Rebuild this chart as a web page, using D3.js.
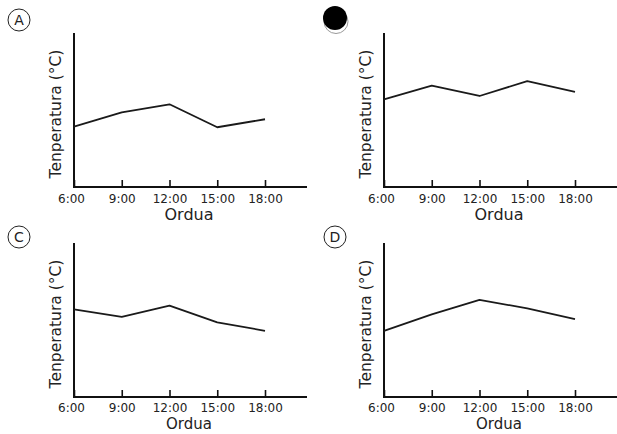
<!DOCTYPE html>
<html>
<head>
<meta charset="utf-8">
<script src="https://cdn.jsdelivr.net/npm/d3@7"></script>
<style>
  html, body { margin: 0; padding: 0; background: #fff; }
  svg { display: block; font-family: "DejaVu Sans", Verdana, sans-serif; }
</style>
</head>
<body>
<svg id="chart" width="617" height="434"></svg>
<script>
// ---- Data ----
const hours = [6, 9, 12, 15, 18];
const tickLabels = ["6:00", "9:00", "12:00", "15:00", "18:00"];
const panelLabels = ["A", "B", "C", "D"];
const seriesA = [39.2, 48.5, 53.7, 38.8, 44.0];
const seriesB = [56.9, 65.8, 59.1, 68.8, 61.7];
const seriesC = [56.9, 52.1, 59.3, 48.5, 43.0];
const seriesD = [42.9, 53.7, 63.0, 57.6, 50.5];
const xTitle = "Ordua";
const yTitle = "Tenperatura (°C)";

const allSeries = [seriesA, seriesB, seriesC, seriesD];

// ---- Layout ----
const svg = d3.select("#chart");
const panelW = 310, panelH = 210;
const axisLeft = 74, axisTop = 33, axisBottom = 187;

const x = d3.scaleLinear().domain([6, 18]).range([axisLeft, 265]);
const y = d3.scaleLinear().domain([0, 100]).range([axisBottom, axisTop]);

allSeries.forEach((vals, i) => {
  const col = i % 2, row = Math.floor(i / 2);
  const g = svg.append("g").attr("transform", `translate(${col * panelW},${row * panelH})`);
  const rightEdge = 307;

  const xAxis = d3.axisBottom(x)
    .tickValues(hours)
    .tickFormat((d, j) => tickLabels[j])
    .tickSizeInner(-7)
    .tickSizeOuter(0)
    .tickPadding(row === 0 ? 7 : 6);
  const xg = g.append("g").attr("transform", `translate(0,${axisBottom})`).call(xAxis);
  xg.select(".domain").remove();
  xg.selectAll(".tick line").attr("stroke", "#111").attr("stroke-width", 1.6);
  xg.selectAll(".tick text")
    .attr("fill", "#222")
    .style("font-size", "12px")
    .style("font-family", "'DejaVu Sans', Verdana, sans-serif");
  xg.selectAll(".tick").filter(d => d === 6).select("text").attr("dx", -3);

  // axis lines
  g.append("line")
    .attr("x1", axisLeft).attr("x2", rightEdge)
    .attr("y1", axisBottom).attr("y2", axisBottom)
    .attr("stroke", "#111").attr("stroke-width", 2);
  g.append("line")
    .attr("x1", axisLeft).attr("x2", axisLeft)
    .attr("y1", axisTop).attr("y2", axisBottom + 1)
    .attr("stroke", "#111").attr("stroke-width", 2);

  // titles
  g.append("text")
    .attr("x", 189).attr("y", row === 0 ? 220 : 219)
    .attr("text-anchor", "middle")
    .attr("fill", "#222")
    .style("font-size", row === 0 ? "16px" : "15px")
    .text(xTitle);
  g.append("text")
    .attr("transform", `translate(61,114) rotate(-90)`)
    .attr("text-anchor", "middle")
    .attr("fill", "#222")
    .style("font-size", "15.5px")
    .text(yTitle);

  // data line
  const line = d3.line().x((d, j) => x(hours[j])).y(d => y(d));
  g.append("path")
    .datum(vals)
    .attr("d", line)
    .attr("fill", "none")
    .attr("stroke", "#1a1a1a")
    .attr("stroke-width", 1.8)
    .attr("stroke-linejoin", "round");

  // panel letter
  const cx = col === 0 ? 19 : 25, cy = row === 0 ? 20 : 27;
  if (i === 1) {
    g.append("circle").attr("cx", cx + 1).attr("cy", cy + 1.5).attr("r", 12)
      .attr("fill", "#fff").attr("stroke", "#999").attr("stroke-width", 1);
    g.append("circle").attr("cx", cx).attr("cy", cy - 2).attr("r", 12).attr("fill", "#000");
  } else {
    g.append("circle").attr("cx", cx).attr("cy", cy).attr("r", 11)
      .attr("fill", "none").attr("stroke", "#222").attr("stroke-width", 1);
    g.append("text")
      .attr("x", cx).attr("y", cy + 5)
      .attr("text-anchor", "middle")
      .attr("fill", "#222")
      .style("font-size", "14px")
      .text(panelLabels[i]);
  }
});
</script>
</body>
</html>
